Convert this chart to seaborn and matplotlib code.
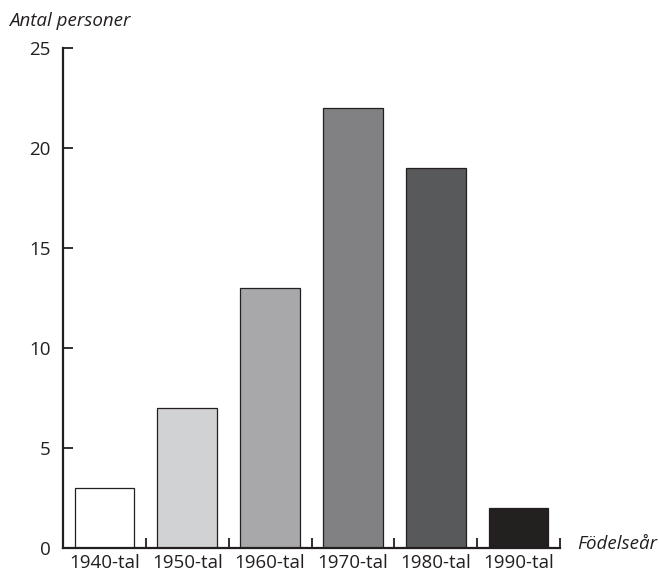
import matplotlib
matplotlib.use("Agg")
import matplotlib.pyplot as plt
import seaborn as sns
import numpy as np
import pandas as pd

# data
decades = ['1940-tal', '1950-tal', '1960-tal', '1970-tal', '1980-tal', '1990-tal']
counts = [3, 7, 13, 22, 19, 2]
bar_colors = ['#ffffff', '#d1d2d4', '#a7a8ab', '#808184', '#58595b', '#231f20']
y_ticks = [0, 5, 10, 15, 20, 25]

sns.set_style("white")
plt.rcParams['font.family'] = ['Open Sans', 'DejaVu Sans']

df = pd.DataFrame({'decade': decades, 'count': counts})

fig = plt.figure(figsize=(6.59, 5.74), dpi=100)
ax = fig.add_axes([63 / 659, 1 - 548 / 574, (560 - 63) / 659, 500 / 574])

sns.barplot(data=df, x='decade', y='count', hue='decade', palette=bar_colors,
            legend=False, width=0.72, edgecolor='#231f20', linewidth=0.9, ax=ax)

ax.set_xlim(-0.5, 5.5)
ax.set_ylim(0, 25)
ax.set_yticks(y_ticks)
ax.set_yticklabels([str(t) for t in y_ticks], fontsize=13.5, color='#231f20')

# category labels without ticks, tick marks at boundaries
ax.set_xticks(np.arange(len(decades)) + 0.5)
ax.set_xticklabels([])
ax.set_xticks(np.arange(len(decades)), minor=True)
ax.set_xticklabels(decades, minor=True, fontsize=13.5, color='#231f20')
ax.tick_params(axis='x', which='minor', bottom=True, length=0, pad=4)
ax.tick_params(axis='x', which='major', bottom=True, direction='in', length=7,
               width=1.3, color='#231f20')
ax.tick_params(axis='y', left=True, direction='in', length=7, width=1.3,
               color='#231f20', pad=9)

for side in ['top', 'right']:
    ax.spines[side].set_visible(False)
for side in ['left', 'bottom']:
    ax.spines[side].set_linewidth(1.6)
    ax.spines[side].set_color('#231f20')

ax.set_xlabel('')
ax.set_ylabel('')
fig.text(9 / 659, 1 - 21 / 574, 'Antal personer', fontsize=13.5, style='italic',
         color='#231f20', ha='left', va='center')
fig.text(577 / 659, 1 - 544 / 574, 'Födelseår', fontsize=13.5, style='italic',
         color='#231f20', ha='left', va='center')

fig.savefig('out.png', dpi=100)
